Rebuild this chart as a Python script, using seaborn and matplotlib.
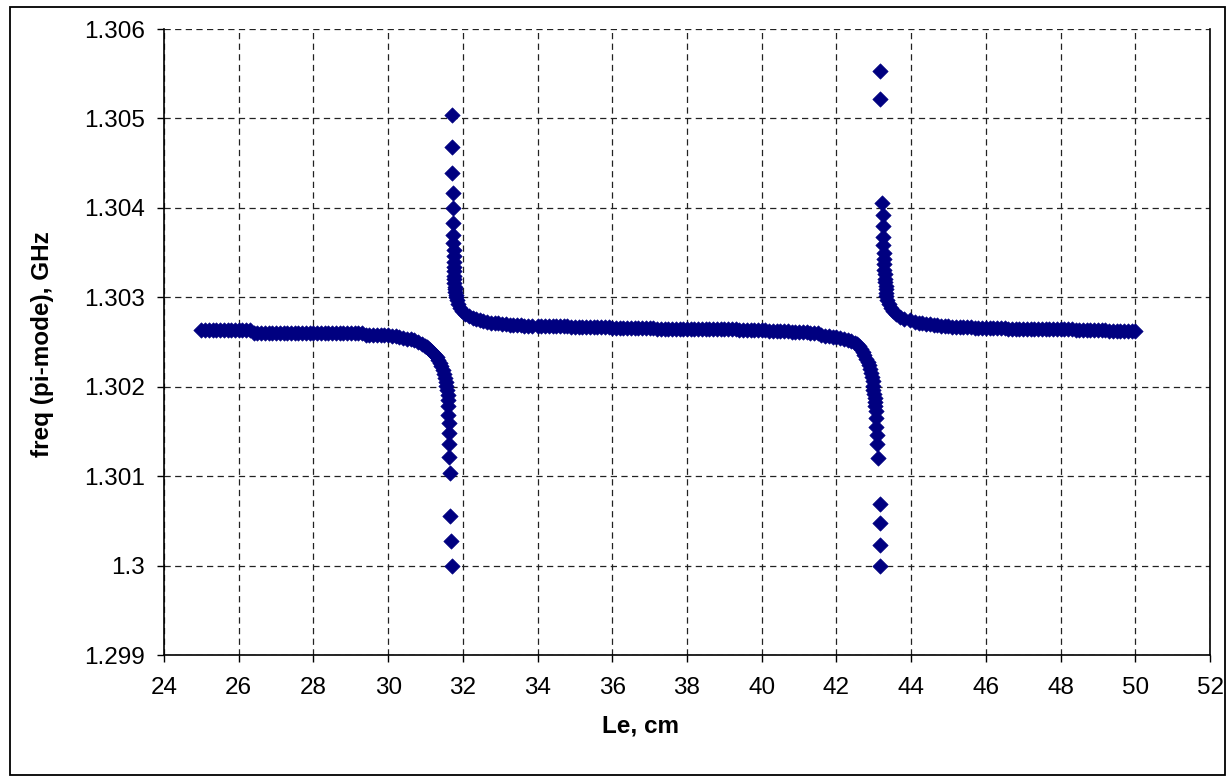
import matplotlib
matplotlib.use("Agg")
import matplotlib.pyplot as plt
import seaborn as sns
import pandas as pd
from matplotlib.patches import Rectangle

# ---------------- data ----------------
le_flat_left = [
    25.0, 25.1, 25.2, 25.3, 25.4, 25.5, 25.6, 25.7, 25.8, 25.9,
    26.0, 26.1, 26.2, 26.3, 26.4, 26.5, 26.6, 26.7, 26.8, 26.9,
    27.0, 27.1, 27.2, 27.3, 27.4, 27.5, 27.6, 27.7, 27.8, 27.9,
    28.0, 28.1, 28.2, 28.3, 28.4, 28.5, 28.6, 28.7, 28.8, 28.9,
    29.0, 29.1, 29.2, 29.3, 29.4, 29.5, 29.6, 29.7, 29.8, 29.9]
f_flat_left = [
    1.30263, 1.30263, 1.30263, 1.30263, 1.30263, 1.30263, 1.30263, 1.30263, 1.30263, 1.30263,
    1.30263, 1.30263, 1.30263, 1.30263, 1.30260, 1.30260, 1.30260, 1.30260, 1.30260, 1.30260,
    1.30260, 1.30260, 1.30260, 1.30260, 1.30260, 1.30260, 1.30260, 1.30260, 1.30260, 1.30260,
    1.30260, 1.30260, 1.30260, 1.30260, 1.30260, 1.30260, 1.30260, 1.30260, 1.30260, 1.30260,
    1.30260, 1.30260, 1.30260, 1.30260, 1.30258, 1.30258, 1.30258, 1.30258, 1.30258, 1.30258]

le_pole1_low = [
    30.0, 30.1, 30.2, 30.3, 30.4, 30.5, 30.6, 30.7, 30.8, 30.9,
    31.0, 31.05, 31.1, 31.15, 31.2, 31.25, 31.3, 31.34, 31.38, 31.42,
    31.46, 31.49, 31.52, 31.54, 31.56, 31.58, 31.59,
    31.60, 31.61, 31.61, 31.62, 31.62, 31.63, 31.64, 31.65, 31.66, 31.69, 31.71]
f_pole1_low = [
    1.302574, 1.302568, 1.302562, 1.302554, 1.302546, 1.302537, 1.302528, 1.302517, 1.302501, 1.302481,
    1.302456, 1.302439, 1.302420, 1.302398, 1.302372, 1.302352, 1.302333, 1.302300, 1.302266, 1.302227,
    1.302182, 1.302137, 1.302093, 1.302048, 1.302003, 1.301959, 1.301908,
    1.301852, 1.301785, 1.301685, 1.301592, 1.301487, 1.301360, 1.301219, 1.301040, 1.300559, 1.300280, 1.299990]

le_pole1_high = [
    31.70, 31.715, 31.715, 31.74, 31.745, 31.745, 31.745, 31.745,
    31.75, 31.75, 31.755, 31.755, 31.76, 31.765, 31.77, 31.775, 31.78, 31.79, 31.80, 31.81, 31.82,
    31.84, 31.87, 31.92, 31.98, 32.06, 32.16, 32.27, 32.35, 32.45, 32.55,
    32.65, 32.75, 32.85, 32.95, 33.05, 33.15, 33.25, 33.35, 33.45, 33.55,
    33.65, 33.75, 33.85]
f_pole1_high = [
    1.305039, 1.304677, 1.304393, 1.304163, 1.303996, 1.303835, 1.303697, 1.303604,
    1.30353, 1.30346, 1.30340, 1.30334, 1.30329, 1.30324, 1.30320, 1.30316, 1.30312, 1.30309, 1.30306, 1.30303, 1.30300,
    1.302970, 1.302926, 1.302881, 1.302847, 1.302814, 1.302786, 1.302764, 1.302752, 1.302741, 1.302732,
    1.302724, 1.302718, 1.302712, 1.302707, 1.302702, 1.302698, 1.302694, 1.302691, 1.302688, 1.302685,
    1.302683, 1.302681, 1.302680]

le_flat_mid = [
    34.0, 34.1, 34.2, 34.3, 34.4, 34.5, 34.6, 34.7, 34.8, 34.9,
    35.0, 35.1, 35.2, 35.3, 35.4, 35.5, 35.6, 35.7, 35.8, 35.9,
    36.0, 36.1, 36.2, 36.3, 36.4, 36.5, 36.6, 36.7, 36.8, 36.9,
    37.0, 37.1, 37.2, 37.3, 37.4, 37.5, 37.6, 37.7, 37.8, 37.9,
    38.0, 38.1, 38.2, 38.3, 38.4, 38.5, 38.6, 38.7, 38.8, 38.9,
    39.0, 39.1, 39.2, 39.3, 39.4, 39.5, 39.6, 39.7, 39.8, 39.9,
    40.0, 40.1, 40.2, 40.3, 40.4, 40.5, 40.6, 40.7, 40.8, 40.9,
    41.0, 41.1, 41.2, 41.3, 41.4, 41.5]
f_flat_mid = [
    1.30268, 1.30268, 1.30268, 1.30268, 1.30268, 1.30268, 1.30268, 1.30268, 1.30268, 1.30267,
    1.30267, 1.30267, 1.30267, 1.30267, 1.30267, 1.30267, 1.30267, 1.30267, 1.30267, 1.30267,
    1.30266, 1.30266, 1.30266, 1.30266, 1.30266, 1.30266, 1.30266, 1.30266, 1.30266, 1.30266,
    1.30266, 1.30266, 1.30265, 1.30265, 1.30265, 1.30265, 1.30265, 1.30265, 1.30265, 1.30265,
    1.30265, 1.30265, 1.30265, 1.30265, 1.30264, 1.30264, 1.30264, 1.30264, 1.30264, 1.30264,
    1.30264, 1.30264, 1.30264, 1.30264, 1.30263, 1.30263, 1.30263, 1.30263, 1.30263, 1.30263,
    1.30263, 1.30263, 1.30262, 1.30262, 1.30262, 1.30262, 1.30262, 1.30262, 1.30261, 1.30261,
    1.30261, 1.30261, 1.30261, 1.30260, 1.30260, 1.30260]

le_pole2_low = [
    41.6, 41.7, 41.8, 41.9, 42.0, 42.1, 42.2, 42.3, 42.4, 42.5,
    42.55, 42.6, 42.65, 42.7, 42.75, 42.8, 42.85, 42.88, 42.91, 42.93,
    42.95, 42.97, 42.98, 42.99, 43.00, 43.02, 43.03, 43.04, 43.05, 43.06,
    43.07, 43.08, 43.09, 43.12, 43.16, 43.16, 43.17, 43.17]
f_pole2_low = [
    1.302577, 1.302572, 1.302568, 1.302561, 1.302554, 1.302546, 1.302534, 1.302523, 1.302512, 1.302490,
    1.302473, 1.302451, 1.302423, 1.302389, 1.302350, 1.302311, 1.302272, 1.302238, 1.302199, 1.302154,
    1.302110, 1.302059, 1.302009, 1.301964, 1.301920, 1.301875, 1.301830, 1.301780, 1.301730, 1.301648,
    1.301554, 1.301461, 1.301360, 1.301201, 1.300690, 1.300481, 1.300231, 1.300000]

le_pole2_high = [
    43.165, 43.165, 43.21, 43.25, 43.25, 43.25,
    43.26, 43.265, 43.27, 43.275, 43.28, 43.29, 43.30, 43.31, 43.315, 43.32, 43.33, 43.34,
    43.36, 43.40, 43.45, 43.52, 43.60, 43.70, 43.82, 43.96, 44.10, 44.20,
    44.30, 44.40, 44.50, 44.60, 44.70, 44.80, 44.90, 45.00]
f_pole2_high = [
    1.305534, 1.305214, 1.304058, 1.303921, 1.303801, 1.303678,
    1.30358, 1.30350, 1.30343, 1.30337, 1.30331, 1.30326, 1.30321, 1.30317, 1.30313, 1.30309, 1.30305, 1.30301,
    1.302970, 1.302926, 1.302881, 1.302842, 1.302808, 1.302780, 1.302758, 1.302741, 1.302727, 1.302718,
    1.302710, 1.302704, 1.302699, 1.302693, 1.302688, 1.302683, 1.302680, 1.302676]

le_flat_right = [
    45.1, 45.2, 45.3, 45.4, 45.5, 45.6, 45.7, 45.8, 45.9,
    46.0, 46.1, 46.2, 46.3, 46.4, 46.5, 46.6, 46.7, 46.8, 46.9,
    47.0, 47.1, 47.2, 47.3, 47.4, 47.5, 47.6, 47.7, 47.8, 47.9,
    48.0, 48.1, 48.2, 48.3, 48.4, 48.5, 48.6, 48.7, 48.8, 48.9,
    49.0, 49.1, 49.2, 49.3, 49.4, 49.5, 49.6, 49.7, 49.8, 49.9,
    50.0]
f_flat_right = [
    1.30267, 1.30267, 1.30267, 1.30267, 1.30267, 1.30267, 1.30266, 1.30266, 1.30266,
    1.30266, 1.30266, 1.30266, 1.30266, 1.30266, 1.30266, 1.30265, 1.30265, 1.30265, 1.30265,
    1.30265, 1.30265, 1.30265, 1.30265, 1.30265, 1.30264, 1.30264, 1.30264, 1.30264, 1.30264,
    1.30264, 1.30264, 1.30264, 1.30264, 1.30263, 1.30263, 1.30263, 1.30263, 1.30263, 1.30263,
    1.30263, 1.30263, 1.30263, 1.30262, 1.30262, 1.30262, 1.30262, 1.30262, 1.30262, 1.30262,
    1.30262]

x_ticks = [24, 26, 28, 30, 32, 34, 36, 38, 40, 42, 44, 46, 48, 50, 52]
y_ticks = [1.299, 1.300, 1.301, 1.302, 1.303, 1.304, 1.305, 1.306]
y_tick_labels = ["1.299", "1.3", "1.301", "1.302", "1.303", "1.304", "1.305", "1.306"]
x_label = "Le, cm"
y_label = "freq (pi-mode), GHz"

# ---------------- assemble ----------------
le_all = (le_flat_left + le_pole1_low + le_pole1_high + le_flat_mid
          + le_pole2_low + le_pole2_high + le_flat_right)
f_all = (f_flat_left + f_pole1_low + f_pole1_high + f_flat_mid
         + f_pole2_low + f_pole2_high + f_flat_right)
df = pd.DataFrame({"Le": le_all, "freq": f_all})

sns.set_theme(style="white")
plt.rcParams["font.family"] = ["Liberation Sans", "DejaVu Sans"]

W, H = 1230, 777
fig = plt.figure(figsize=(W / 100, H / 100), dpi=100)
fig.patch.set_facecolor("white")

L, R, T, B = 164, 1210, 29, 655
ax = fig.add_axes([L / W, 1 - B / H, (R - L) / W, (B - T) / H])
ax.set_facecolor("white")

sns.scatterplot(data=df, x="Le", y="freq", marker="D", s=62,
                color="#000080", edgecolor="#000080", linewidth=0.4,
                legend=False, ax=ax, zorder=3)

ax.set_xlim(24, 52)
ax.set_ylim(1.299, 1.306)
ax.set_xticks(x_ticks)
ax.set_xticklabels([str(v) for v in x_ticks])
ax.set_yticks(y_ticks)
ax.set_yticklabels(y_tick_labels)

ax.grid(True, which="major", color="#222222", linestyle=(0, (5, 3.5)), linewidth=0.9)
ax.set_axisbelow(True)

for side in ["left", "bottom", "right"]:
    ax.spines[side].set_visible(True)
    ax.spines[side].set_color("black")
    ax.spines[side].set_linewidth(1.2)
ax.spines["top"].set_visible(False)

ax.tick_params(axis="both", which="major", direction="out", length=5, width=1,
               color="black", labelsize=17.5, labelcolor="black", left=True, bottom=True)
ax.tick_params(axis="x", pad=11)
ax.tick_params(axis="y", pad=9)

ax.set_xlabel(x_label, fontsize=17.5, fontweight="bold", color="black")
ax.set_ylabel(y_label, fontsize=17.5, fontweight="bold", color="black")
ax.xaxis.set_label_coords(0.456, -0.095)
ax.yaxis.set_label_coords(-0.105, 0.497)

fig.patches.append(Rectangle((10 / W, 1 - 775 / H), (1225 - 10) / W, (775 - 7) / H,
                             transform=fig.transFigure, fill=False,
                             edgecolor="black", linewidth=1.3))

fig.savefig("out.png", dpi=100, facecolor="white")
